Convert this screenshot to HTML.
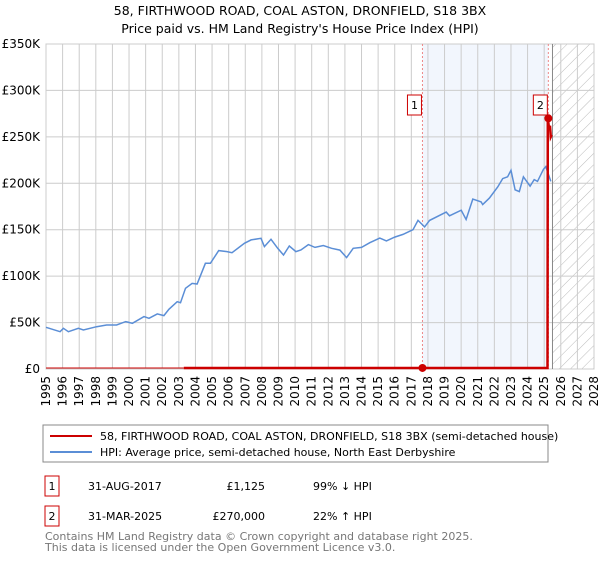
<!DOCTYPE html>
<html><head><meta charset="utf-8"><style>
body{margin:0;background:#fff;font-family:"DejaVu Sans","Liberation Sans",sans-serif;}
svg text{font-family:"DejaVu Sans","Liberation Sans",sans-serif;}
</style></head><body>
<svg id="chart" width="600" height="560" viewBox="0 0 600 560">
<text x="300" y="15" text-anchor="middle" font-size="12.5">58, FIRTHWOOD ROAD, COAL ASTON, DRONFIELD, S18 3BX</text>
<text x="300" y="33" text-anchor="middle" font-size="12.5">Price paid vs. HM Land Registry's House Price Index (HPI)</text>
<defs><pattern id="hatch" width="8" height="8" patternUnits="userSpaceOnUse" patternTransform="rotate(45)"><line x1="0" y1="0" x2="0" y2="8" stroke="#bbb" stroke-width="1"/></pattern></defs>
<g id="plot"></g>
<rect x="43" y="425" width="505" height="37" fill="#fff" stroke="#888"/>
<line x1="50" y1="436" x2="92" y2="436" stroke="#cc0000" stroke-width="2"/>
<text x="100" y="440" font-size="11">58, FIRTHWOOD ROAD, COAL ASTON, DRONFIELD, S18 3BX (semi-detached house)</text>
<line x1="50" y1="452" x2="92" y2="452" stroke="#5b8ed6" stroke-width="2"/>
<text x="100" y="456" font-size="11">HPI: Average price, semi-detached house, North East Derbyshire</text>
<rect x="45" y="476" width="14" height="20" fill="#fff" stroke="#cc0000"/>
<text x="52" y="490" font-size="11" text-anchor="middle">1</text>
<text x="88" y="490" font-size="11">31-AUG-2017</text>
<text x="265" y="490" font-size="11" text-anchor="end">£1,125</text>
<text x="313" y="490" font-size="11">99% ↓ HPI</text>
<rect x="45" y="506" width="14" height="20" fill="#fff" stroke="#cc0000"/>
<text x="52" y="520" font-size="11" text-anchor="middle">2</text>
<text x="88" y="520" font-size="11">31-MAR-2025</text>
<text x="265" y="520" font-size="11" text-anchor="end">£270,000</text>
<text x="313" y="520" font-size="11">22% ↑ HPI</text>
<text x="45" y="540" font-size="11" fill="#777">Contains HM Land Registry data © Crown copyright and database right 2025.</text>
<text x="45" y="551" font-size="11" fill="#777">This data is licensed under the Open Government Licence v3.0.</text>
</svg>
<script>
const yTicks=[0,50000,100000,150000,200000,250000,300000,350000];
const yTickLabels=["£0","£50K","£100K","£150K","£200K","£250K","£300K","£350K"];
const xYears=[1995,1996,1997,1998,1999,2000,2001,2002,2003,2004,2005,2006,2007,2008,2009,2010,2011,2012,2013,2014,2015,2016,2017,2018,2019,2020,2021,2022,2023,2024,2025,2026,2027,2028];
const hpiT=[1995.0,1995.85,1996.05,1996.35,1996.95,1997.25,1998.05,1998.65,1999.25,1999.8,2000.2,2000.9,2001.2,2001.7,2002.1,2002.4,2002.9,2003.1,2003.4,2003.8,2004.1,2004.6,2004.9,2005.4,2005.9,2006.2,2006.95,2007.35,2007.95,2008.15,2008.55,2008.95,2009.3,2009.65,2010.05,2010.35,2010.8,2011.2,2011.7,2012.2,2012.7,2013.1,2013.5,2014.0,2014.5,2015.1,2015.5,2016.0,2016.5,2017.1,2017.4,2017.8,2018.1,2019.1,2019.3,2020.0,2020.3,2020.7,2021.2,2021.3,2021.7,2022.2,2022.5,2022.8,2023.0,2023.25,2023.5,2023.75,2024.15,2024.4,2024.6,2024.95,2025.1,2025.4];
const hpiV=[44900,40200,43800,40200,43800,42000,45600,47400,47400,51000,49200,56400,54600,59300,57500,64300,72500,71400,86900,92200,91500,113800,113800,127500,126400,125300,135400,139000,140800,131800,139700,130000,122800,132500,126400,128200,134000,131000,133000,130000,128000,120000,130000,131000,136000,141000,138000,142000,145000,150000,160000,153000,160000,169000,165000,171000,161000,183000,180000,177000,184000,196000,205000,207000,214000,193000,191000,207000,197000,204000,202000,215000,218000,202000];
const priceT=[2003.3,2017.67,2025.2,2025.22,2025.3,2025.35,2025.4,2025.45];
const priceV=[1125,1125,1125,270000,258000,262000,250000,252000];
const saleT=[2017.67,2025.25];
const saleV=[1125,270000];
const saleLabels=["1","2"];
const NS="http://www.w3.org/2000/svg";
const X0=46,X1=594,Y0=369,Y1=44;
const xs=t=>X0+(t-1995)/(2028-1995)*(X1-X0);
const ys=v=>Y0-v/350000*(Y0-Y1);
const g=document.getElementById('plot');
function mk(tag,attrs,parent){const e=document.createElementNS(NS,tag);for(const k in attrs)e.setAttribute(k,attrs[k]);(parent||g).appendChild(e);return e;}
let r=mk('rect',{x:xs(saleT[0]),y:Y1,width:xs(saleT[1])-xs(saleT[0]),height:Y0-Y1,fill:'#f2f6fd'});


r=mk('rect',{x:xs(2025.5),y:Y1,width:X1-xs(2025.5),height:Y0-Y1,fill:'url(#hatch)'});


yTicks.forEach((v,i)=>{
 const l=mk('line',{x1:X0,x2:X1,y1:ys(v),y2:ys(v),stroke:'#ccc'});
 
 
 const t=mk('text',{x:X0-6,y:ys(v)+4,'text-anchor':'end','font-size':12});
 t.textContent=yTickLabels[i];
 
 
});
xYears.forEach(y=>{
 const l=mk('line',{x1:xs(y),x2:xs(y),y1:Y1,y2:Y0,stroke:'#ccc'});
 
 
 const t=mk('text',{x:0,y:0,'text-anchor':'end','font-size':12,transform:`translate(${xs(y)+4},376) rotate(-90)`});
 t.textContent=y;
 
 
});
const b=mk('rect',{x:X0,y:Y1,width:X1-X0,height:Y0-Y1,fill:'none',stroke:'#ccc'});


const vl=mk('line',{x1:xs(2025.5),x2:xs(2025.5),y1:Y1,y2:Y0,stroke:'#888'});


saleT.forEach((t,i)=>{
 const l=mk('line',{x1:xs(t),x2:xs(t),y1:Y1,y2:Y0,stroke:'#e88','stroke-dasharray':'2,2'});
 
 
});
let d=hpiT.map((t,i)=>(i?'L':'M')+xs(t).toFixed(1)+','+ys(hpiV[i]).toFixed(1)).join('');
const hp=mk('path',{d:d,fill:'none',stroke:'#5b8ed6','stroke-width':1.5});


const thin=mk('line',{x1:X0,x2:xs(priceT[0]),y1:ys(priceV[0]),y2:ys(priceV[0]),stroke:'#cc0000','stroke-width':1});


d=priceT.map((t,i)=>(i?'L':'M')+xs(t).toFixed(1)+','+ys(priceV[i]).toFixed(1)).join('');
const pp=mk('path',{d:d,fill:'none',stroke:'#cc0000','stroke-width':2.5});


saleT.forEach((t,i)=>{
 const c=mk('circle',{cx:xs(t),cy:ys(saleV[i]),r:4,fill:'#cc0000'});
 
 
 const bx=mk('rect',{x:xs(t)-15,y:95,width:14,height:20,fill:'#fff',stroke:'#cc0000'});
 
 
 const tx=mk('text',{x:xs(t)-8,y:109,'text-anchor':'middle','font-size':11});
 tx.textContent=saleLabels[i];
 
 
});
</script>
</body></html>
